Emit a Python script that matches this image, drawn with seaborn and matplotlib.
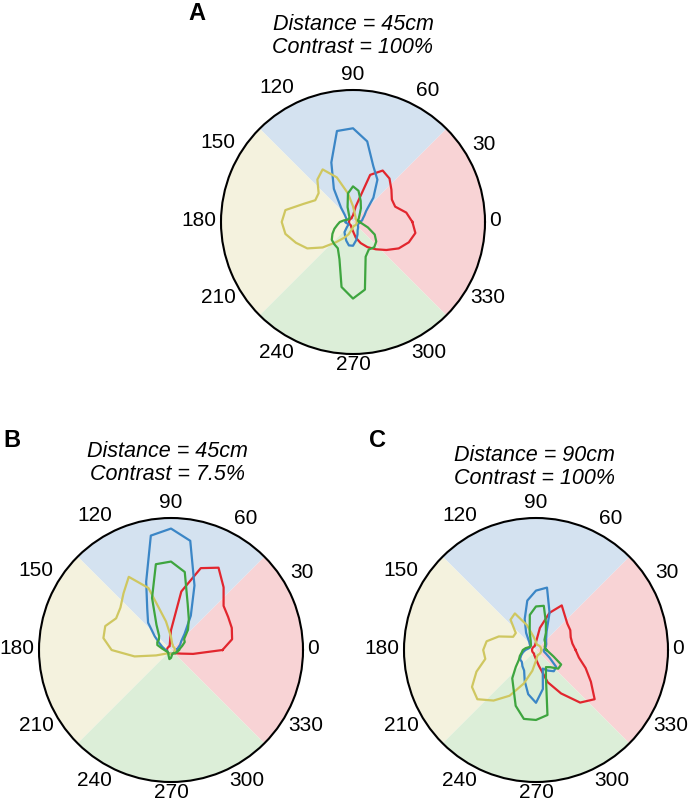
import numpy as np
import pandas as pd
import matplotlib
matplotlib.use("Agg")
import matplotlib.pyplot as plt
import seaborn as sns

# =============================
# polar tuning curves, radius normalised to the outer circle (1.0)
# one value every 10 degrees, starting at 0
# =============================

ANGLES = [0, 10, 20, 30, 40, 50, 60, 70, 80, 90, 100, 110,
          120, 130, 140, 150, 160, 170, 180, 190, 200, 210, 220, 230,
          240, 250, 260, 270, 280, 290, 300, 310, 320, 330, 340, 350]
TICK_ANGLES = [0, 30, 60, 90, 120, 150, 180, 210, 240, 270, 300, 330]

# panel A : 45cm, 100%
a_blue = [.05, .07, .08, .10, .13, .24, .37, .45, .62, .71, .70, .48,
          .29, .14, .08, .06, .05, .05, .06, .05, .04, .04, .06, .10,
          .12, .15, .18, .18, .14, .10, .07, .06, .05, .04, .04, .05]
a_red = [.45, .41, .34, .34, .38, .43, .45, .38, .12, .05, .04, .03,
         .03, .03, .03, .03, .03, .03, .03, .03, .03, .03, .03, .03,
         .03, .04, .05, .07, .12, .17, .22, .27, .33, .40, .45, .48]
a_yellow = [.03, .03, .03, .03, .03, .03, .04, .05, .07, .12, .22, .36,
            .46, .42, .34, .33, .40, .52, .54, .52, .46, .40, .30, .20,
            .14, .10, .06, .04, .03, .03, .03, .03, .03, .03, .03, .03]
a_green = [.05, .04, .04, .05, .06, .08, .12, .17, .24, .27, .22, .12,
           .06, .04, .04, .04, .05, .07, .10, .12, .15, .18, .21, .22,
           .23, .30, .50, .58, .52, .28, .24, .25, .23, .19, .12, .07]

# panel B : 45cm, 7.5%
b_blue = [.04, .05, .06, .08, .10, .16, .30, .52, .84, .92, .88, .55,
          .36, .27, .16, .10, .07, .05, .04, .03, .03, .03, .03, .03,
          .03, .03, .03, .03, .03, .03, .03, .03, .03, .03, .03, .03]
b_red = [.39, .47, .49, .50, .52, .62, .72, .66, .45, .15, .05, .03,
         .03, .03, .03, .03, .03, .03, .03, .03, .03, .03, .03, .03,
         .03, .03, .03, .03, .03, .03, .03, .03, .04, .05, .08, .17]
b_yellow = [.03, .03, .03, .03, .03, .03, .03, .04, .05, .10, .22, .50,
            .64, .56, .50, .48, .53, .52, .45, .28, .12, .06, .04, .03,
            .03, .03, .03, .03, .03, .03, .03, .03, .03, .03, .03, .03]
b_green = [.06, .07, .09, .12, .13, .20, .27, .37, .60, .67, .66, .42,
           .22, .14, .12, .12, .11, .07, .05, .04, .03, .03, .03, .03,
           .04, .05, .07, .06, .04, .03, .03, .03, .04, .04, .05, .05]

# panel C : 90cm, 100%
c_blue = [.06, .07, .08, .09, .10, .12, .16, .30, .48, .45, .38, .25,
          .15, .08, .06, .05, .05, .06, .08, .10, .12, .14, .14, .16,
          .18, .25, .34, .40, .30, .15, .18, .21, .20, .12, .08, .06]
c_red = [.30, .28, .28, .30, .31, .34, .39, .30, .17, .06, .04, .03,
         .03, .03, .03, .03, .03, .03, .03, .03, .03, .03, .03, .03,
         .03, .04, .05, .07, .12, .26, .38, .52, .58, .48, .40, .33]
c_yellow = [.04, .04, .04, .04, .04, .04, .04, .04, .04, .06, .10, .20,
            .32, .30, .20, .20, .30, .38, .40, .39, .48, .56, .58, .50,
            .40, .27, .16, .08, .05, .04, .04, .04, .04, .04, .04, .04]
c_green = [.08, .07, .07, .08, .09, .10, .15, .22, .34, .33, .27, .14,
           .08, .06, .05, .05, .06, .08, .10, .11, .13, .15, .20, .28,
           .34, .45, .53, .53, .50, .22, .15, .17, .22, .22, .14, .10]

panels = {
    "A": ("Distance = 45cm\nContrast = 100%", [a_red, a_blue, a_yellow, a_green]),
    "B": ("Distance = 45cm\nContrast = 7.5%", [b_red, b_blue, b_yellow, b_green]),
    "C": ("Distance = 90cm\nContrast = 100%", [c_red, c_blue, c_yellow, c_green]),
}

curve_names = ["red", "blue", "yellow", "green"]
line_colors = {"red": "#e2262e", "blue": "#3b86c6", "yellow": "#cfc760", "green": "#3ea53f"}
sector_colors = ["#f8d3d5", "#d4e2f0", "#f4f2de", "#dceed8"]  # centred on 0, 90, 180, 270

# =============================

W, H = 696, 801
plt.rcParams['font.family'] = ['Liberation Sans', 'DejaVu Sans']
fig = plt.figure(figsize=(W / 100, H / 100), dpi=100)

R = 132
TICK_FS = 15
centers = {"A": (353, 222), "B": (171, 650), "C": (536, 650)}
title_y = {"A": 24, "B": 451, "C": 455}   # centre of first title line (px from top)
title_x = {"A": 353, "B": 167, "C": 534}
letters = {"A": (188, 2), "B": (3, 429), "C": (369, 429)}


def draw_panel(key):
    cx, cy = centers[key]
    title, curves = panels[key]
    ax = fig.add_axes([(cx - R) / W, (H - cy - R) / H, 2 * R / W, 2 * R / H], projection="polar")

    # coloured quadrants
    ax.bar(np.deg2rad([0, 90, 180, 270]), [1, 1, 1, 1], width=np.pi / 2,
           color=sector_colors, edgecolor="none", zorder=0)

    rows = []
    for name, vals in zip(curve_names, curves):
        for a, v in zip(ANGLES + [ANGLES[0]], vals + [vals[0]]):
            rows.append([name, np.deg2rad(a), v])
    df = pd.DataFrame(rows, columns=["cell", "theta", "r"])
    sns.lineplot(data=df, x="theta", y="r", hue="cell", palette=line_colors,
                 sort=False, estimator=None, linewidth=1.6, legend=False, ax=ax)

    ax.set_ylim(0, 1)
    ax.set_yticks([])
    ax.set_xticks([])
    ax.set_xlabel("")
    ax.set_ylabel("")
    ax.grid(False)
    ax.spines["polar"].set_color("black")
    ax.spines["polar"].set_linewidth(1.5)
    ax.set_facecolor("white")

    # angle labels sitting just outside the rim
    char_w = 0.556 * TICK_FS / 0.72   # px per digit
    half_h = 7.5
    for t in TICK_ANGLES:
        lab = str(t)
        c, s = np.cos(np.deg2rad(t)), np.sin(np.deg2rad(t))
        off = 4.5 + abs(c) * len(lab) * char_w / 2 + abs(s) * (half_h + 1)
        ax.annotate(lab, xy=(np.deg2rad(t), 1), xytext=(off * c * 0.72, (off * s + 2) * 0.72),
                    textcoords="offset points", ha="center", va="center",
                    fontsize=TICK_FS, annotation_clip=False)

    fig.text(title_x[key] / W, 1 - (title_y[key] - 10) / H, title, ha="center", va="top",
             fontsize=15.5, style="italic", linespacing=1.12)

    lx, ly = letters[key]
    fig.text(lx / W, 1 - ly / H, key, fontsize=17, fontweight="bold", va="top")


for k in panels:
    draw_panel(k)

plt.savefig("out.png", dpi=100)
plt.close()
